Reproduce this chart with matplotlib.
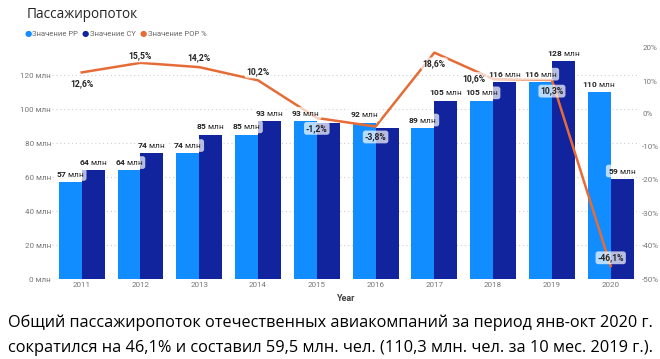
import matplotlib
matplotlib.use("Agg")
import matplotlib.pyplot as plt
import numpy as np

years = ["2011", "2012", "2013", "2014", "2015", "2016", "2017", "2018", "2019", "2020"]
pp = [57, 64, 74, 85, 93, 92, 89, 105, 116, 110]
cy = [64, 74, 85, 93, 92, 88.6, 105, 116, 128, 59]
pop = [12.6, 15.5, 14.2, 10.2, -1.2, -3.8, 18.6, 10.6, 10.3, -46.1]
left_ticks = [0, 20, 40, 60, 80, 100, 120]
right_ticks = [-50, -40, -30, -20, -10, 0, 10, 20]
hide_cy_labels = [4, 5]

C_PP = "#118DFF"
C_CY = "#12239E"
C_POP = "#E66C37"
TXT = "#252423"
GRAY = "#777777"

plt.rcParams["font.family"] = ["Roboto", "DejaVu Sans"]
plt.rcParams["mathtext.fontset"] = "custom"
plt.rcParams["mathtext.rm"] = "Roboto"
plt.rcParams["mathtext.bf"] = "Roboto:bold"

W, H = 660, 359
fig = plt.figure(figsize=(W / 100, H / 100), dpi=100)
fig.patch.set_facecolor("white")

ax_l = 52.3 / W
ax_w = 587.8 / W
ax_b = (H - 279) / H
ax_h = 239 / H
ax = fig.add_axes([ax_l, ax_b, ax_w, ax_h])
ax2 = ax.twinx()

x = np.arange(len(years))
bw = 0.39
ax.bar(x - bw / 2, pp, bw, color=C_PP, zorder=2)
ax.bar(x + bw / 2, cy, bw, color=C_CY, zorder=2)
ax.set_xlim(-0.5, len(years) - 0.5)
ax.set_ylim(0, 239 / 1.7)
ax.set_yticks(left_ticks)
ax.set_yticklabels([f"{v} млн" for v in left_ticks])
ax.grid(axis="y", color="#d0d0d0", linestyle=(0, (1, 2.5)), linewidth=0.8, zorder=0)
ax.set_axisbelow(True)
ax.set_xticks(x)
ax.set_xticklabels(years)
ax.tick_params(axis="both", length=0, labelsize=5.8, colors=GRAY, pad=2.5)
ax.tick_params(axis="y", pad=1)
for s in ax.spines.values():
    s.set_visible(False)
ax.set_xlabel("Year", fontsize=6.5, fontweight="bold", color="#444444", labelpad=4)

ax2.set_ylim(-50, -50 + 239 / 3.3)
ax2.set_yticks(right_ticks)
ax2.set_yticklabels([f"{v}%" for v in right_ticks])
ax2.tick_params(axis="y", length=0, labelsize=5.8, colors=GRAY, pad=1.5)
for s in ax2.spines.values():
    s.set_visible(False)
ax2.plot(x, pop, color=C_POP, linewidth=1.8, zorder=3)

box = dict(boxstyle="round,pad=0.22,rounding_size=0.3", facecolor="white", edgecolor="none", alpha=0.7)

def add_val(xi, v):
    yy = ax2.transData.inverted().transform(ax.transData.transform((xi, v)))[1]
    ax2.annotate(r"$\mathbf{%d}$ млн" % round(v), (xi, yy), xytext=(0, 5.5), textcoords="offset points",
                 ha="center", va="center", fontsize=6, color=TXT, bbox=box, zorder=5)

for i in range(len(years)):
    add_val(i - bw / 2, pp[i])
    if i not in hide_cy_labels:
        add_val(i + bw / 2, cy[i])

offs = [(0, -8), (0, 5), (0, 6.5), (0, 6), (0, -7.5), (0, -7.5), (0, -8), (-14, 0.5), (0, -8), (0, 6)]
for i, v in enumerate(pop):
    ax2.annotate(f"{v:.1f}%".replace(".", ","), (i, v), xytext=offs[i], textcoords="offset points",
                 ha="center", va="center", fontsize=6.2, fontweight="bold", color=TXT, bbox=box, zorder=6)

fig.text(27 / W, 1 - 15 / H, "Пассажиропоток", fontsize=9.8, color="#252423", ha="left", va="center",
         family=["Open Sans", "DejaVu Sans"])
leg_items = [("Значение PP", C_PP, 28), ("Значение CY", C_CY, 85.5), ("Значение POP %", C_POP, 143)]
for lab, col, px in leg_items:
    fig.text(px / W, 1 - 33.5 / H, "●", fontsize=6, color=col, ha="center", va="center",
             family=["DejaVu Sans"])
    fig.text((px + 4.5) / W, 1 - 33.5 / H, lab, fontsize=5.5, color="#666666", ha="left", va="center")

cap_font = ["Open Sans", "DejaVu Sans"]
fig.text(8 / W, 1 - 323 / H, "Общий пассажиропоток отечественных авиакомпаний за период янв-окт 2020 г.",
         fontsize=11.7, color="black", ha="left", va="center", family=cap_font)
fig.text(8 / W, 1 - 348 / H, "сократился на 46,1% и составил 59,5 млн. чел. (110,3 млн. чел. за 10 мес. 2019 г.).",
         fontsize=11.75, color="black", ha="left", va="center", family=cap_font)

fig.savefig("out.png", dpi=100, facecolor="white")
